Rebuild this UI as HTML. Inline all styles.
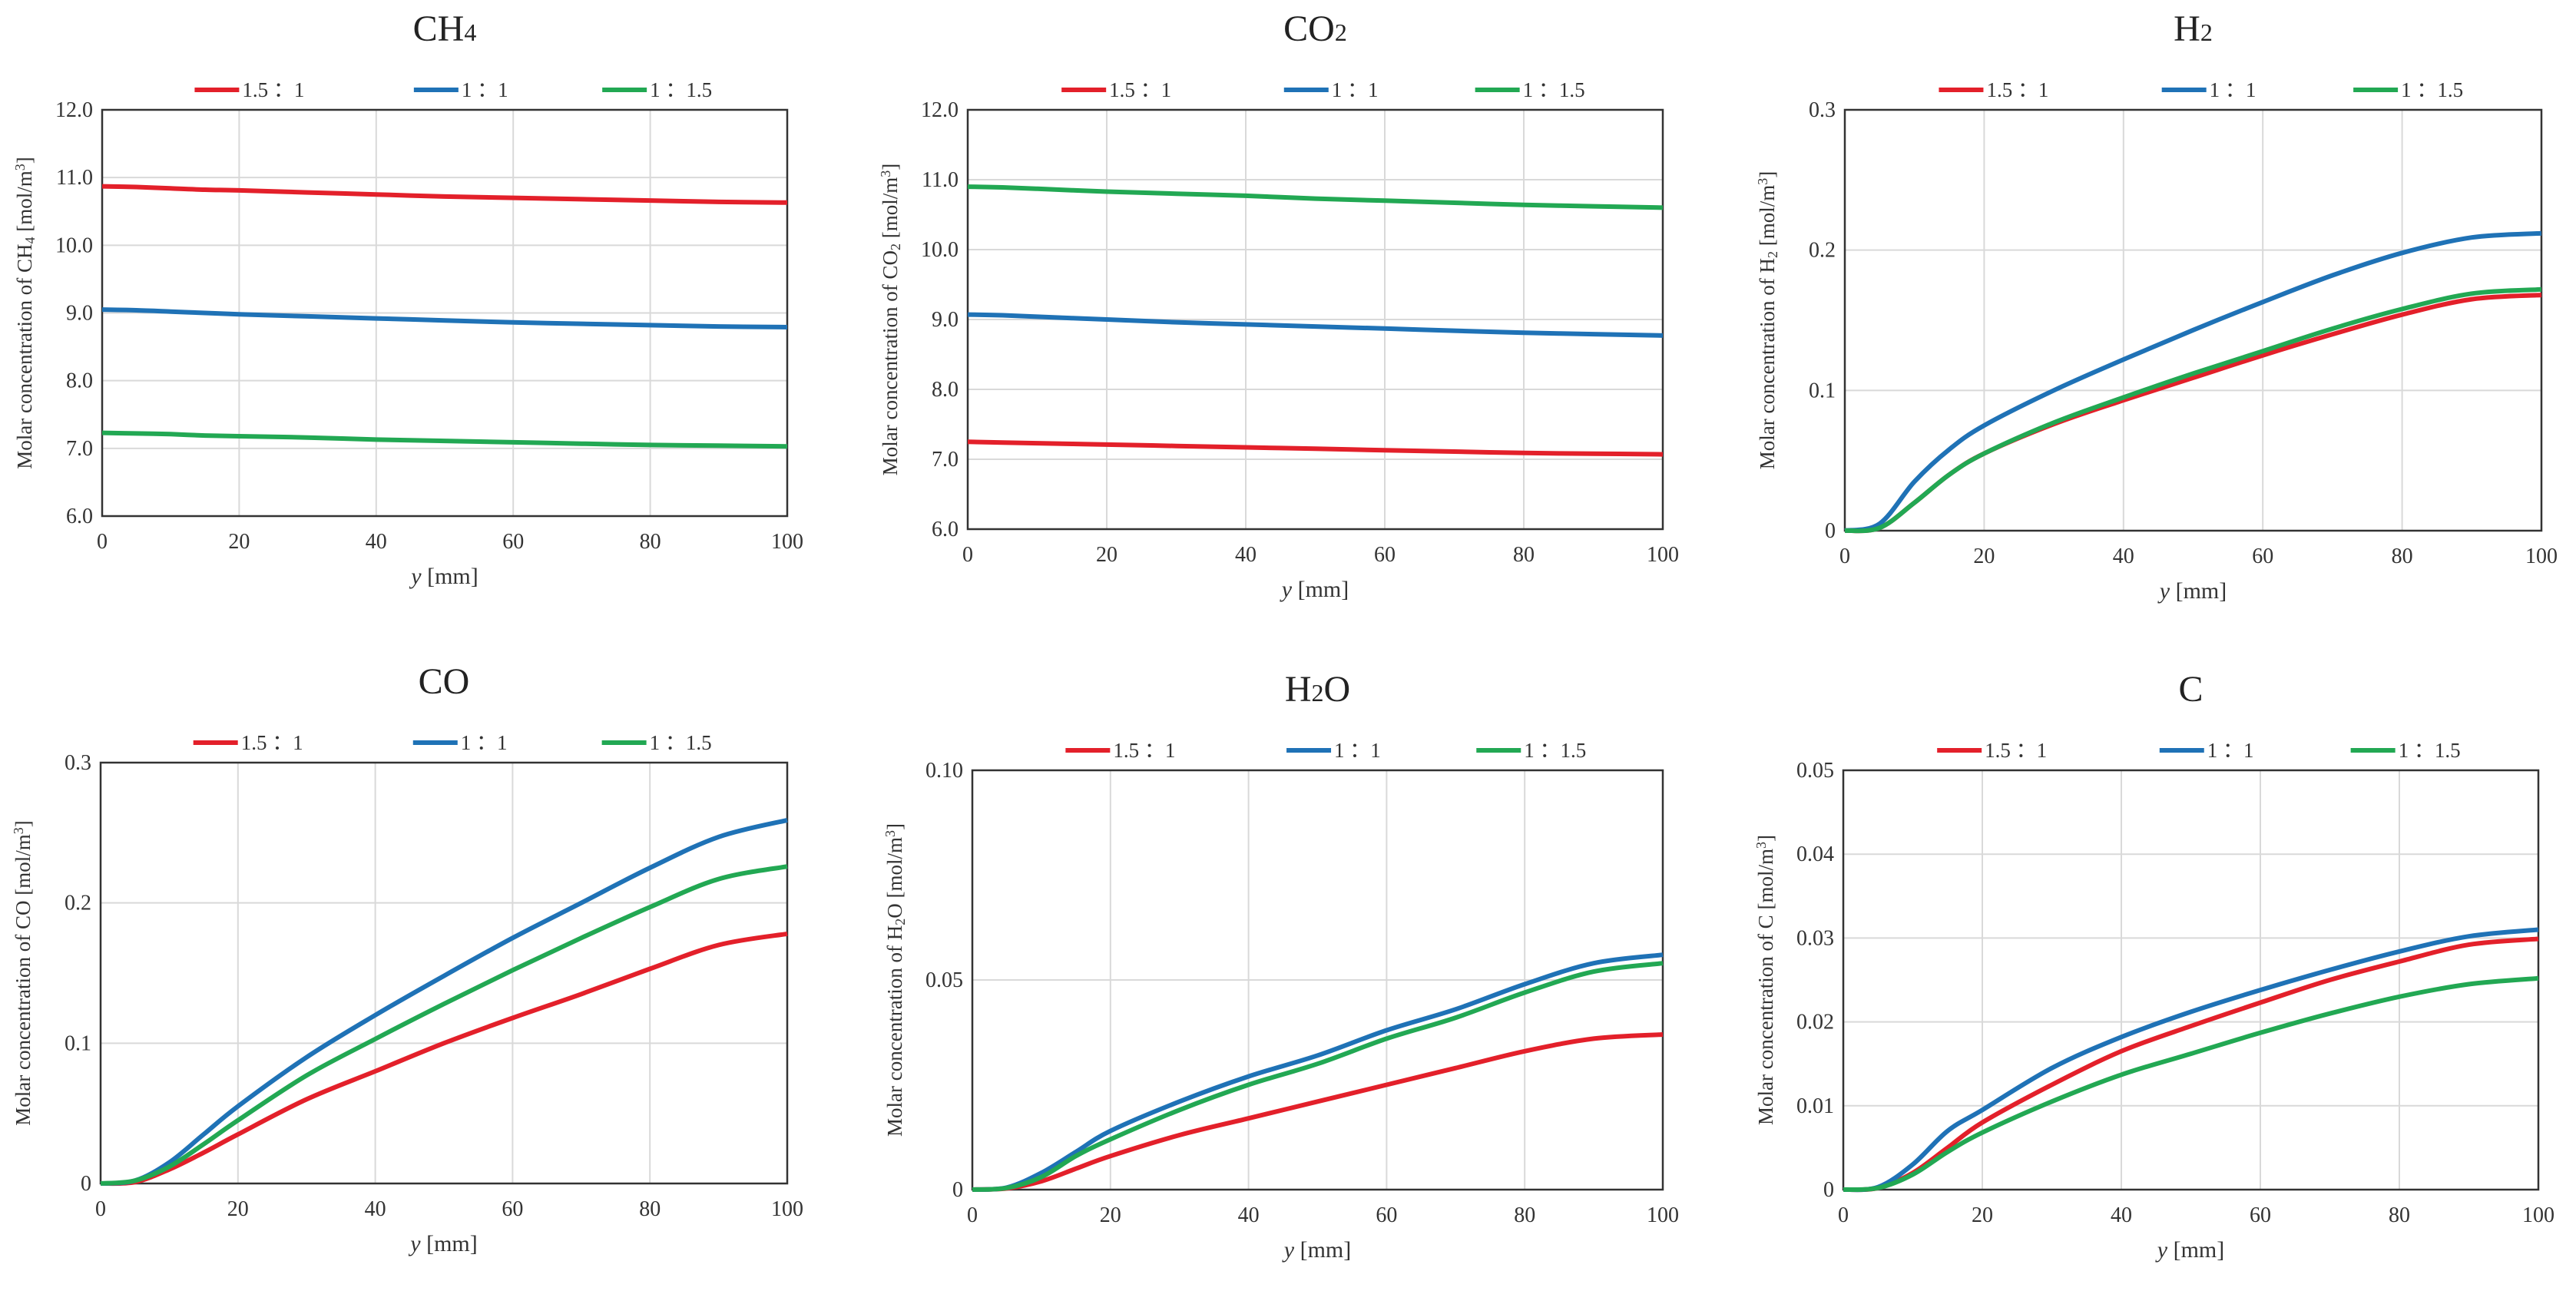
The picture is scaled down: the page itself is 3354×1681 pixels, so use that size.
<!DOCTYPE html>
<html><head><meta charset="utf-8">
<style>
html,body{margin:0;padding:0;background:#fff;}
svg{display:block;font-family:"Liberation Serif",serif;}
</style></head>
<body>
<svg id="fig" width="3354" height="1681" viewBox="0 0 3354 1681" xmlns="http://www.w3.org/2000/svg"></svg>
<script>
const xVals = [0,5,10,15,20,30,40,50,60,70,80,90,100];
const seriesNames = ["1.5 \uFF1A1","1 \uFF1A1","1 \uFF1A1.5"];
const ch4Red   = [10.87,10.86,10.84,10.82,10.81,10.78,10.75,10.72,10.70,10.68,10.66,10.64,10.63];
const ch4Blue  = [9.05,9.04,9.02,9.00,8.98,8.95,8.92,8.89,8.86,8.84,8.82,8.80,8.79];
const ch4Green = [7.23,7.22,7.21,7.19,7.18,7.16,7.13,7.11,7.09,7.07,7.05,7.04,7.03];
const co2Red   = [7.25,7.24,7.23,7.22,7.21,7.19,7.17,7.15,7.13,7.11,7.09,7.08,7.07];
const co2Blue  = [9.07,9.06,9.04,9.02,9.00,8.96,8.93,8.90,8.87,8.84,8.81,8.79,8.77];
const co2Green = [10.90,10.89,10.87,10.85,10.83,10.80,10.77,10.73,10.70,10.67,10.64,10.62,10.60];
const h2Red    = [0,0.002,0.02,0.04,0.055,0.076,0.093,0.109,0.125,0.140,0.154,0.165,0.168];
const h2Blue   = [0,0.005,0.035,0.058,0.075,0.100,0.122,0.143,0.163,0.182,0.198,0.209,0.212];
const h2Green  = [0,0.002,0.02,0.04,0.055,0.077,0.095,0.112,0.128,0.144,0.158,0.169,0.172];
const coRed    = [0,0.001,0.010,0.022,0.035,0.060,0.080,0.100,0.118,0.135,0.153,0.170,0.178];
const coBlue   = [0,0.002,0.015,0.035,0.055,0.090,0.120,0.148,0.175,0.200,0.225,0.247,0.259];
const coGreen  = [0,0.002,0.012,0.028,0.045,0.077,0.103,0.128,0.152,0.175,0.197,0.217,0.226];
const h2oRed   = [0,0.0003,0.002,0.005,0.008,0.013,0.017,0.021,0.025,0.029,0.033,0.036,0.037];
const h2oBlue  = [0,0.0005,0.004,0.009,0.014,0.021,0.027,0.032,0.038,0.043,0.049,0.054,0.056];
const h2oGreen = [0,0.0004,0.003,0.008,0.012,0.019,0.025,0.030,0.036,0.041,0.047,0.052,0.054];
const cRed     = [0,0.0002,0.002,0.005,0.008,0.0125,0.0165,0.0195,0.0223,0.025,0.0272,0.0292,0.0299];
const cBlue    = [0,0.0003,0.003,0.007,0.0095,0.0145,0.0182,0.0212,0.0238,0.0262,0.0284,0.0302,0.031];
const cGreen   = [0,0.0002,0.0018,0.0045,0.0068,0.0105,0.0137,0.0162,0.0187,0.021,0.023,0.0245,0.0252];
const xTicks = [0,20,40,60,80,100];
const ticksCH4 = ["6.0","7.0","8.0","9.0","10.0","11.0","12.0"];
const ticksH2 = ["0","0.1","0.2","0.3"];
const ticksH2O = ["0","0.05","0.10"];
const ticksC = ["0","0.01","0.02","0.03","0.04","0.05"];

const colors = ["#e3202a","#1f72b6","#22a853"];
const svg = document.getElementById('fig');
const NS = "http://www.w3.org/2000/svg";
function el(tag, attrs, parent){const e=document.createElementNS(NS,tag);for(const k in attrs)e.setAttribute(k,attrs[k]);(parent||svg).appendChild(e);return e;}

const panels = [
 {id:"ch4",title:"CH",sub:"4",L:133,R:1025,T:143,B:672,ymin:6,ymax:12,ticks:ticksCH4,series:[ch4Red,ch4Blue,ch4Green]},
 {id:"co2",title:"CO",sub:"2",L:1260,R:2165,T:143,B:689,ymin:6,ymax:12,ticks:ticksCH4,series:[co2Red,co2Blue,co2Green]},
 {id:"h2",title:"H",sub:"2",L:2402,R:3309,T:143,B:691,ymin:0,ymax:0.3,ticks:ticksH2,series:[h2Red,h2Blue,h2Green]},
 {id:"co",title:"CO",sub:"",L:131,R:1025,T:993,B:1541,ymin:0,ymax:0.3,ticks:ticksH2,series:[coRed,coBlue,coGreen]},
 {id:"h2o",title:"H",sub:"2",post:"O",L:1266,R:2165,T:1003,B:1549,ymin:0,ymax:0.1,ticks:ticksH2O,series:[h2oRed,h2oBlue,h2oGreen]},
 {id:"c",title:"C",sub:"",L:2400,R:3305,T:1003,B:1549,ymin:0,ymax:0.05,ticks:ticksC,series:[cRed,cBlue,cGreen]}
];

function pathFrom(pts){
  let d="M"+pts[0][0].toFixed(1)+","+pts[0][1].toFixed(1);
  for(let i=0;i<pts.length-1;i++){
    const p0=pts[Math.max(0,i-1)],p1=pts[i],p2=pts[i+1],p3=pts[Math.min(pts.length-1,i+2)];
    const c1x=p1[0]+(p2[0]-p0[0])/6,c1y=p1[1]+(p2[1]-p0[1])/6;
    const c2x=p2[0]-(p3[0]-p1[0])/6,c2y=p2[1]-(p3[1]-p1[1])/6;
    d+=" C"+c1x.toFixed(1)+","+c1y.toFixed(1)+" "+c2x.toFixed(1)+","+c2y.toFixed(1)+" "+p2[0].toFixed(1)+","+p2[1].toFixed(1);
  }
  return d;
}

panels.forEach(p=>{
  const g=el('g',{});
  
  
  const W=p.R-p.L,H=p.B-p.T;
  const xs=v=>p.L+v/100*W;
  const ys=v=>p.B-(v-p.ymin)/(p.ymax-p.ymin)*H;
  const t=el('text',{x:(p.L+p.R)/2,y:p.T-90,'text-anchor':'middle','font-size':48,fill:'#222'},g);
  
  
  t.appendChild(document.createTextNode(p.title));
  if(p.sub){const s=el('tspan',{'font-size':32},t);s.textContent=p.sub;}
  if(p.post){const s=el('tspan',{'font-size':48},t);s.textContent=p.post;}
  xTicks.forEach(v=>{
    const gl=el('line',{x1:xs(v),x2:xs(v),y1:p.T,y2:p.B,stroke:'#d9d9d9','stroke-width':2},g);
    
    
    const tl=el('text',{x:xs(v),y:p.B+42,'text-anchor':'middle','font-size':28,fill:'#333'},g);
    
    
    tl.textContent=v;
  });
  p.ticks.forEach(s=>{
    const v=parseFloat(s);
    const gl=el('line',{x1:p.L,x2:p.R,y1:ys(v),y2:ys(v),stroke:'#d9d9d9','stroke-width':2},g);
    
    
    const tl=el('text',{x:p.L-12,y:ys(v)+9,'text-anchor':'end','font-size':28,fill:'#333'},g);
    
    
    tl.textContent=s;
  });
  const fr=el('rect',{x:p.L,y:p.T,width:W,height:H,fill:'none',stroke:'#333','stroke-width':2.5},g);
  
  
  p.series.forEach((arr,i)=>{
    const pts=arr.map((v,j)=>[xs(xVals[j]),ys(v)]);
    const ln=el('path',{d:pathFrom(pts),fill:'none',stroke:colors[i],'stroke-width':6,'stroke-linejoin':'round'},g);
    
    
  });
  const lx=[0.135,0.455,0.73];
  seriesNames.forEach((n,i)=>{
    const x0=p.L+lx[i]*W, y0=p.T-26;
    const lg=el('g',{},g);
    
    
    el('line',{x1:x0,x2:x0+58,y1:y0,y2:y0,stroke:colors[i],'stroke-width':6},lg);
    const tx=el('text',{x:x0+62,y:y0+9,'font-size':27,fill:'#333'},lg);
    tx.textContent=n;
  });
  const xt=el('text',{x:(p.L+p.R)/2,y:p.B+88,'text-anchor':'middle','font-size':30,fill:'#333'},g);
  
  
  const it=el('tspan',{'font-style':'italic'},xt);it.textContent='y';
  const rt=el('tspan',{},xt);rt.textContent=' [mm]';
  const cy=(p.T+p.B)/2, cx=p.L-92;
  const yt=el('text',{x:cx,y:cy,'text-anchor':'middle','font-size':27,fill:'#333',transform:'rotate(-90 '+cx+' '+cy+')'},g);
  
  
  let lab='Molar concentration of '+p.title;
  const a=el('tspan',{},yt);a.textContent=lab;
  if(p.sub){const s=el('tspan',{'font-size':18,dy:4},yt);s.textContent=p.sub;}
  if(p.post){const s=el('tspan',{dy:p.sub?-4:0},yt);s.textContent=p.post;}
  const b=el('tspan',{dy:(p.sub&&!p.post)?-4:0},yt);b.textContent=' [mol/m';
  const c=el('tspan',{'font-size':18,dy:-9},yt);c.textContent='3';
  const d=el('tspan',{dy:9},yt);d.textContent=']';
});
</script>
</body></html>
